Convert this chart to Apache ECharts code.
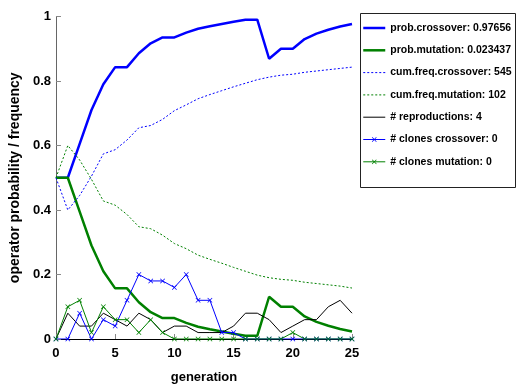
<!DOCTYPE html>
<html>
<head>
<meta charset="utf-8">
<script src="https://cdn.jsdelivr.net/npm/echarts@6/dist/echarts.min.js"></script>
<style>
  html, body { margin: 0; padding: 0; background: #fff; }
  #chart { width: 516px; height: 390px; }
</style>
</head>
<body>
<div id="chart"></div>
<script>
// generations 0..25
var generations = [0,1,2,3,4,5,6,7,8,9,10,11,12,13,14,15,16,17,18,19,20,21,22,23,24,25];

var probCrossover = [0.5,0.5,0.605,0.71,0.79,0.843,0.843,0.886,0.917,0.935,0.935,0.95,0.962,0.97,0.977,0.984,0.99,0.99,0.869,0.9,0.9,0.93,0.947,0.959,0.969,0.977];
var probMutation  = [0.5,0.5,0.395,0.29,0.21,0.157,0.157,0.114,0.083,0.065,0.065,0.05,0.038,0.03,0.023,0.016,0.01,0.01,0.131,0.1,0.1,0.07,0.053,0.041,0.031,0.023];
var cumFreqCrossover = [0.5,0.4,0.445,0.505,0.574,0.587,0.617,0.655,0.662,0.681,0.708,0.726,0.745,0.758,0.77,0.782,0.793,0.804,0.812,0.818,0.821,0.827,0.831,0.835,0.839,0.843];
var cumFreqMutation  = [0.5,0.6,0.555,0.495,0.428,0.415,0.386,0.348,0.342,0.322,0.296,0.28,0.26,0.247,0.235,0.222,0.21,0.198,0.19,0.185,0.182,0.176,0.172,0.168,0.164,0.158];
var reproductions  = [0,0.08,0.04,0.04,0.08,0.06,0.04,0.08,0.06,0.02,0.04,0.04,0.02,0.02,0.02,0.04,0.08,0.08,0.06,0.02,0.04,0.06,0.06,0.1,0.12,0.08];
var clonesCrossover = [0,0,0.08,0,0.06,0.04,0.12,0.2,0.18,0.18,0.16,0.2,0.12,0.12,0.02,0.02,0,0,0,0,0,0,0,0,0,0];
var clonesMutation  = [0,0.1,0.12,0.02,0.1,0.06,0.06,0.02,0.06,0.02,0,0,0,0,0,0,0,0,0,0,0.02,0,0,0,0,0];

var legendNames = [
  'prob.crossover: 0.97656',
  'prob.mutation: 0.023437',
  'cum.freq.crossover: 545',
  'cum.freq.mutation: 102',
  '# reproductions: 4',
  '# clones crossover: 0',
  '# clones mutation: 0'
];
var hasMarker = [false, false, false, false, false, true, true];
var lineWidths = [2.5, 2.5, 1, 1, 1, 1, 1];

function pairs(vals) {
  var out = [];
  for (var i = 0; i < vals.length; i++) out.push([generations[i], vals[i]]);
  return out;
}

var xMark = 'path://M0,1L1,0L5,4L9,0L10,1L6,5L10,9L9,10L5,6L1,10L0,9L4,5Z';
var boldFont = "'Liberation Sans Narrow', 'Liberation Sans', Arial, sans-serif";

var myChart = echarts.init(document.getElementById('chart'));

function lineSeries(name, data, color, width, type, marker) {
  return {
    name: name,
    type: 'line',
    data: pairs(data),
    symbol: marker ? xMark : 'none',
    symbolSize: 5,
    showSymbol: !!marker,
    itemStyle: { color: color },
    lineStyle: { color: color, width: width, type: type },
    animation: false,
    silent: true
  };
}

// legend entries: hide the default circle on plain lines
var legendData = [];
for (var k = 0; k < legendNames.length; k++) {
  var item = { name: legendNames[k], lineStyle: { width: lineWidths[k] } };
  if (!hasMarker[k]) item.itemStyle = { opacity: 0 };
  legendData.push(item);
}

var option = {
  backgroundColor: '#ffffff',
  grid: { left: 46, right: 164, top: 16.5, bottom: 51, containLabel: false },
  graphic: [{
    type: 'rect',
    left: 360, top: 13,
    shape: { width: 155, height: 174 },
    style: { fill: '#fff', stroke: '#222', lineWidth: 1 },
    z: -1
  }],
  legend: {
    orient: 'vertical',
    left: 360,
    top: 13,
    padding: [9.5, 0, 6, 2],
    itemWidth: 22,
    itemHeight: 6,
    itemGap: 11.3,
    data: legendData,
    textStyle: { fontFamily: boldFont, fontWeight: 'bold', fontSize: 10.5, color: '#000' }
  },
  xAxis: {
    type: 'value',
    min: 0, max: 25, interval: 5,
    name: 'generation',
    nameLocation: 'middle',
    nameGap: 32,
    nameTextStyle: { fontFamily: boldFont, fontWeight: 'bold', fontSize: 13, color: '#000' },
    axisLine: { lineStyle: { color: '#000', width: 1 } },
    axisTick: { inside: true, length: 5, lineStyle: { color: '#888' } },
    axisLabel: { fontFamily: boldFont, fontWeight: 'bold', fontSize: 13, color: '#000', margin: 8 },
    splitLine: { show: false }
  },
  yAxis: {
    type: 'value',
    min: 0, max: 1, interval: 0.2,
    name: 'operator probability / frequency',
    nameLocation: 'middle',
    nameGap: 16,
    nameTextStyle: { fontFamily: boldFont, fontWeight: 'bold', fontSize: 14, color: '#000' },
    axisLine: { show: true, lineStyle: { color: '#666', width: 1 } },
    axisTick: { show: true, inside: true, length: 5, lineStyle: { color: '#888' } },
    axisLabel: { fontFamily: boldFont, fontWeight: 'bold', fontSize: 13, color: '#000', margin: 5 },
    splitLine: { show: false }
  },
  series: [
    lineSeries(legendNames[0], probCrossover, '#0000ff', 2.5, 'solid', false),
    lineSeries(legendNames[1], probMutation, '#008000', 2.5, 'solid', false),
    lineSeries(legendNames[2], cumFreqCrossover, '#0000ff', 1, [2, 2], false),
    lineSeries(legendNames[3], cumFreqMutation, '#008000', 1, [2, 2], false),
    lineSeries(legendNames[4], reproductions, '#000000', 1, 'solid', false),
    lineSeries(legendNames[5], clonesCrossover, '#0000ff', 1, 'solid', true),
    lineSeries(legendNames[6], clonesMutation, '#008000', 1, 'solid', true)
  ]
};

myChart.setOption(option);
</script>
</body>
</html>
